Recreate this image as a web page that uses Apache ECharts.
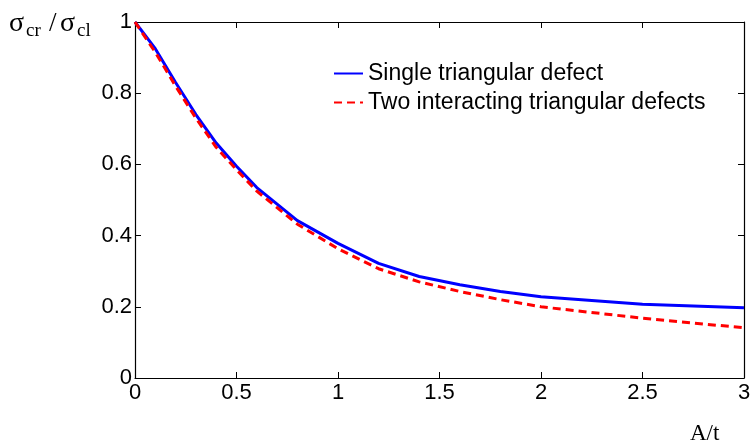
<!DOCTYPE html>
<html>
<head>
<meta charset="utf-8">
<script src="https://cdn.jsdelivr.net/npm/echarts@6/dist/echarts.min.js"></script>
<style>html,body{margin:0;padding:0;background:#fff}#c{width:754px;height:447px}</style>
</head>
<body>
<div id="c"></div>
<script>
const xValues = [0, 0.1, 0.2, 0.3, 0.4, 0.5, 0.6, 0.8, 1.0, 1.2, 1.4, 1.6, 1.8, 2.0, 2.5, 3.0];
const singleDefect = [1.0, 0.925, 0.83, 0.74, 0.66, 0.595, 0.535, 0.442, 0.378, 0.322, 0.285, 0.262, 0.243, 0.228, 0.207, 0.197];
const twoDefects = [1.0, 0.915, 0.82, 0.73, 0.648, 0.585, 0.525, 0.432, 0.363, 0.307, 0.27, 0.243, 0.22, 0.20, 0.168, 0.141];
const seriesNames = ['Single triangular defect', 'Two interacting triangular defects'];

const chart = echarts.init(document.getElementById('c'));
const tickFont = { fontFamily: 'Liberation Sans', fontSize: 22, color: '#000' };
const axisCommon = {
  type: 'value', min: 0, splitLine: { show: false },
  axisLine: { show: true, onZero: false, lineStyle: { color: '#000', width: 1.2 } },
  axisTick: { show: true, inside: true, length: 6, lineStyle: { color: '#000', width: 1 } }
};
chart.setOption({
  animation: false,
  backgroundColor: '#fff',
  grid: { left: 135, top: 22, right: 10, bottom: 69 },
  xAxis: [
    Object.assign({}, axisCommon, { position: 'bottom', max: 3, interval: 0.5,
      axisLabel: Object.assign({ margin: 4 }, tickFont) }),
    Object.assign({}, axisCommon, { position: 'top', max: 3, interval: 0.5, axisLabel: { show: false } })
  ],
  yAxis: [
    Object.assign({}, axisCommon, { position: 'left', max: 1, interval: 0.2,
      axisLabel: Object.assign({ margin: 3 }, tickFont) }),
    Object.assign({}, axisCommon, { position: 'right', max: 1, interval: 0.2, axisLabel: { show: false } })
  ],
  legend: {
    orient: 'vertical', left: 328, top: 57, itemWidth: 29, itemHeight: 14, itemGap: 6,
    itemStyle: { opacity: 0 },
    textStyle: { fontFamily: 'Liberation Sans', fontSize: 23, color: '#000', lineHeight: 22, padding: [0,0,0,0] },
    data: seriesNames
  },
  series: [
    { name: seriesNames[0], type: 'line', showSymbol: false, symbol: 'none',
      data: xValues.map((x, i) => [x, singleDefect[i]]),
      lineStyle: { color: '#0000ff', width: 3 }, itemStyle: { color: '#0000ff' }, z: 2 },
    { name: seriesNames[1], type: 'line', showSymbol: false, symbol: 'none',
      data: xValues.map((x, i) => [x, twoDefects[i]]),
      lineStyle: { color: '#ff0000', width: 3, type: [8, 5] }, itemStyle: { color: '#ff0000' }, z: 3 }
  ],
  graphic: [
    { type: 'text', left: 9, top: 10, style: { text: 'σ', font: '28px "Liberation Serif"', fill: '#000' } },
    { type: 'text', left: 26, top: 22, style: { text: 'cr', font: '19px "Liberation Serif"', fill: '#000' } },
    { type: 'text', left: 49, top: 10, style: { text: '/', font: '27px "Liberation Serif"', fill: '#000' } },
    { type: 'text', left: 60, top: 10, style: { text: 'σ', font: '28px "Liberation Serif"', fill: '#000' } },
    { type: 'text', left: 77, top: 22, style: { text: 'cl', font: '19px "Liberation Serif"', fill: '#000' } },
    { type: 'text', left: 690, top: 422, style: { text: 'A/t', font: '23px "Liberation Serif"', fill: '#000' } }
  ]
});
</script>
</body>
</html>
